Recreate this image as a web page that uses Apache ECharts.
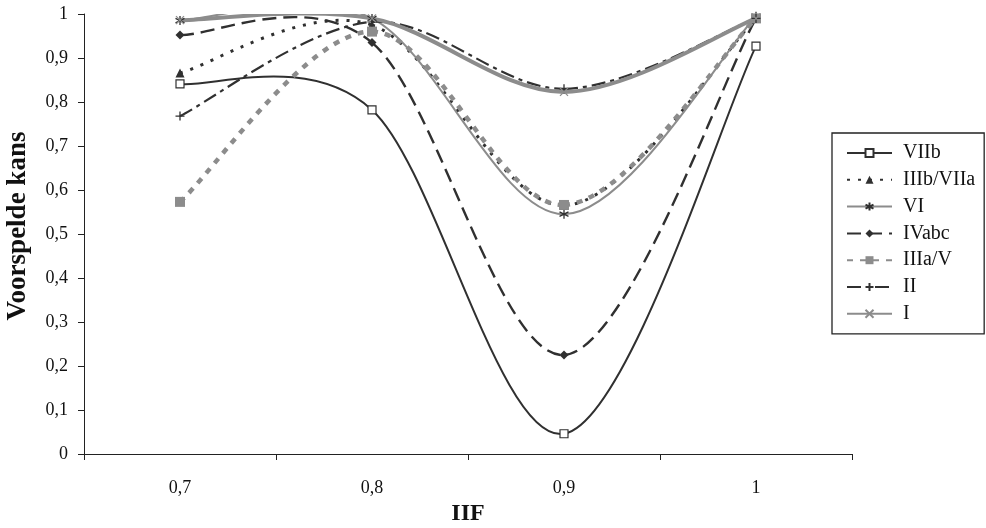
<!DOCTYPE html>
<html><head><meta charset="utf-8">
<script src="https://cdn.jsdelivr.net/npm/echarts@6/dist/echarts.min.js"></script>
<style>html,body{margin:0;padding:0;background:#fff}#c{width:986px;height:528px}</style>
</head><body><div id="c"></div>
<script>
const categories = ['0,7', '0,8', '0,9', '1'];
const yTicks = [0, 0.1, 0.2, 0.3, 0.4, 0.5, 0.6, 0.7, 0.8, 0.9, 1];
const VIIb     = [0.841, 0.782, 0.046, 0.927];
const IIIbVIIa = [0.866, 0.975, 0.565, 0.99];
const VI       = [0.985, 0.99, 0.545, 0.995];
const IVabc    = [0.952, 0.935, 0.225, 0.99];
const IIIaV    = [0.573, 0.960, 0.566, 0.99];
const II       = [0.768, 0.982, 0.830, 0.99];
const I        = [0.986, 0.99, 0.823, 0.99];

const dark = '#303030', gray = '#8c8c8c';
const font = 'Liberation Serif';
const asterisk = 'path://M0,-1L0,1M-0.87,-0.5L0.87,0.5M-0.87,0.5L0.87,-0.5';
const plus = 'path://M0,-1L0,1M-1,0L1,0';
const cross = 'path://M-1,-1L1,1M-1,1L1,-1';

const defs = [
  { name: 'VIIb', data: VIIb, color: dark, width: 2, dash: null, symbol: 'rect', size: 8,
    item: { color: '#fff', borderColor: dark, borderWidth: 1.2 } },
  { name: 'IIIb/VIIa', data: IIIbVIIa, color: dark, width: 3, dash: [3, 8], symbol: 'triangle', size: 9 },
  { name: 'VI', data: VI, color: gray, width: 2, dash: null, symbol: asterisk, size: 9,
    item: { color: 'none', borderColor: dark, borderWidth: 1.3 } },
  { name: 'IVabc', data: IVabc, color: dark, width: 2.4, dash: [14, 7], symbol: 'diamond', size: 9 },
  { name: 'IIIa/V', data: IIIaV, color: gray, width: 4.5, dash: [6, 7], symbol: 'rect', size: 10 },
  { name: 'II', data: II, color: dark, width: 2.2, dash: [14, 5, 4, 5], symbol: plus, size: 9,
    item: { color: 'none', borderColor: dark, borderWidth: 1.3 } },
  { name: 'I', data: I, color: gray, width: 4, dash: null, symbol: cross, size: 8,
    item: { color: 'none', borderColor: gray, borderWidth: 1.3 } }
];

// Smooth curve through data points (Excel-like cardinal spline), drawn via axis scales
function curveSeries(d) {
  return {
    type: 'custom', name: d.name + '_curve', z: 1, silent: true, clip: true,
    data: d.data.map((v, i) => [i, v]),
    encode: { x: 0, y: 1 },
    renderItem: function (params, api) {
      if (params.dataIndex !== 0) return null;
      const pts = d.data.map((v, i) => api.coord([i, v]));
      const n = pts.length, k = 1 / 6, children = [];
      for (let i = 0; i < n - 1; i++) {
        const p0 = pts[Math.max(i - 1, 0)], p1 = pts[i], p2 = pts[i + 1], p3 = pts[Math.min(i + 2, n - 1)];
        children.push({
          type: 'bezierCurve',
          shape: {
            x1: p1[0], y1: p1[1], x2: p2[0], y2: p2[1],
            cpx1: p1[0] + (p2[0] - p0[0]) * k, cpy1: p1[1] + (p2[1] - p0[1]) * k,
            cpx2: p2[0] - (p3[0] - p1[0]) * k, cpy2: p2[1] - (p3[1] - p1[1]) * k
          },
          style: { stroke: d.color, lineWidth: d.width, lineDash: d.dash, fill: null, lineCap: 'butt' }
        });
      }
      return { type: 'group', children };
    }
  };
}

function markerSeries(d) {
  return {
    name: d.name, type: 'line', data: d.data, z: 3,
    symbol: d.symbol, symbolSize: d.size, showAllSymbol: true,
    lineStyle: { color: d.color, width: d.width, type: d.dash || 'solid', opacity: 0 },
    itemStyle: Object.assign({ color: d.color }, d.item || {}),
    emphasis: { disabled: true }
  };
}

const chart = echarts.init(document.getElementById('c'), null, { renderer: 'canvas' });
chart.setOption({
  animation: false,
  backgroundColor: '#fff',
  grid: { left: 84, right: 134, top: 14, bottom: 74, containLabel: false, outerBoundsMode: 'none' },
  legend: {
    orient: 'vertical', left: 832, top: 133,
    padding: [10, 9, 10, 14],
    borderColor: '#222', borderWidth: 1.3,
    itemWidth: 45, itemHeight: 10, itemGap: 6.8,
    lineStyle: { opacity: 1 },
    textStyle: { fontFamily: font, fontSize: 20, color: '#111', padding: [0, 0, 0, 6] },
    data: defs.map(d => d.name)
  },
  xAxis: {
    type: 'category', data: categories, boundaryGap: true,
    name: 'IIF', nameLocation: 'middle', nameGap: 43,
    nameTextStyle: { fontFamily: font, fontSize: 24, fontWeight: 'bold', color: '#111' },
    axisLine: { lineStyle: { color: '#222', width: 1 } },
    axisTick: { show: true, length: 6, inside: false, lineStyle: { color: '#222' } },
    axisLabel: { fontFamily: font, fontSize: 18, color: '#111', margin: 25 },
    splitLine: { show: false }
  },
  yAxis: {
    type: 'value', min: yTicks[0], max: yTicks[yTicks.length - 1], interval: 0.1,
    name: 'Voorspelde kans', nameLocation: 'middle', nameGap: 52, nameRotate: 90,
    nameTextStyle: { fontFamily: font, fontSize: 27, fontWeight: 'bold', color: '#111', padding: [0, 0, 0, 16] },
    axisLine: { show: true, lineStyle: { color: '#222', width: 1 } },
    axisTick: { show: true, length: 6, lineStyle: { color: '#222' } },
    axisLabel: { fontFamily: font, fontSize: 18, color: '#111', margin: 16,
      formatter: v => String(Math.round(v * 10) / 10).replace('.', ',') },
    splitLine: { show: false }
  },
  series: defs.map(curveSeries).concat(defs.map(markerSeries))
});
</script></body></html>
